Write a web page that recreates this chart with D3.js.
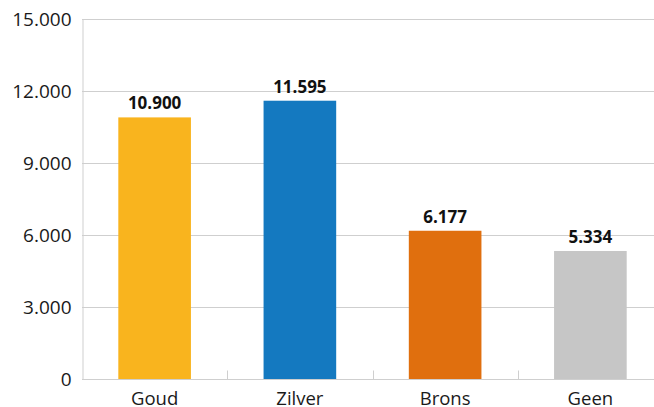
<!DOCTYPE html>
<html>
<head>
<meta charset="utf-8">
<script src="https://cdn.jsdelivr.net/npm/d3@7"></script>
<style>
  html, body { margin: 0; padding: 0; background: #fff; }
  svg { display: block; }
  text { font-family: "Open Sans", "Noto Sans", sans-serif; }
</style>
</head>
<body>
<svg id="chart" width="654" height="407"></svg>
<script>
// Medal categories and their counts
const categories = ["Goud", "Zilver", "Brons", "Geen"];
const values = [10900, 11595, 6177, 5334];
const colors = ["#F9B41E", "#1479C0", "#E06F0E", "#C6C6C6"];
const yTicks = [0, 3000, 6000, 9000, 12000, 15000];

const width = 654, height = 407;
const margin = { top: 19, right: -9, bottom: 28, left: 82 };

const svg = d3.select("#chart");

const x = d3.scaleBand()
  .domain(categories)
  .range([margin.left, width - margin.right])
  .paddingInner(0.5)
  .paddingOuter(0.25);

const y = d3.scaleLinear()
  .domain([0, 15000])
  .range([height - margin.bottom, margin.top]);

// Dutch number formatting: dot as thousands separator
const nl = d3.formatLocale({ decimal: ",", thousands: ".", grouping: [3], currency: ["€", ""] });
const fmt = nl.format(",d");

// Horizontal gridlines
svg.append("g")
  .selectAll("line")
  .data(yTicks.filter(d => d > 0))
  .join("line")
  .attr("x1", margin.left)
  .attr("x2", width)
  .attr("y1", d => y(d) + 0.5)
  .attr("y2", d => y(d) + 0.5)
  .attr("stroke", "#cfcfcf")
  .attr("stroke-width", 1);

// Y axis
const yAxis = svg.append("g")
  .attr("transform", `translate(${margin.left + 0.5},0)`)
  .call(d3.axisLeft(y).tickValues(yTicks).tickFormat(fmt).tickSize(0).tickPadding(11));
yAxis.select(".domain").attr("stroke", "#cfcfcf");
yAxis.selectAll("text")
  .attr("font-size", 19)
  .attr("fill", "#1a1a1a")
  .style("font-family", '"Open Sans", sans-serif');

// Bars
svg.append("g")
  .selectAll("rect")
  .data(categories)
  .join("rect")
  .attr("x", d => x(d))
  .attr("width", x.bandwidth())
  .attr("y", (d, i) => y(values[i]))
  .attr("height", (d, i) => y(0) - y(values[i]))
  .attr("fill", (d, i) => colors[i]);

// X axis baseline with category separator ticks pointing up
const step = x.step();
const xAxis = svg.append("g")
  .attr("transform", `translate(0,${y(0) + 0.5})`);
xAxis.append("line")
  .attr("x1", margin.left)
  .attr("x2", width)
  .attr("stroke", "#cfcfcf");
xAxis.selectAll("line.sep")
  .data(categories.slice(1))
  .join("line")
  .attr("class", "sep")
  .attr("x1", d => Math.round(x(d) - step * 0.25) + 0.5)
  .attr("x2", d => Math.round(x(d) - step * 0.25) + 0.5)
  .attr("y1", 0)
  .attr("y2", -9)
  .attr("stroke", "#cfcfcf");
xAxis.selectAll("text")
  .data(categories)
  .join("text")
  .attr("x", d => x(d) + x.bandwidth() / 2)
  .attr("y", 25)
  .attr("text-anchor", "middle")
  .attr("font-size", 18.5)
  .attr("fill", "#1a1a1a")
  .text(d => d);

// Value labels above bars
svg.append("g")
  .selectAll("text")
  .data(categories)
  .join("text")
  .attr("x", d => x(d) + x.bandwidth() / 2)
  .attr("y", (d, i) => y(values[i]) - 8)
  .attr("text-anchor", "middle")
  .attr("font-size", 17)
  .attr("font-weight", "bold")
  .attr("fill", "#111")
  .text((d, i) => fmt(values[i]));
</script>
</body>
</html>
